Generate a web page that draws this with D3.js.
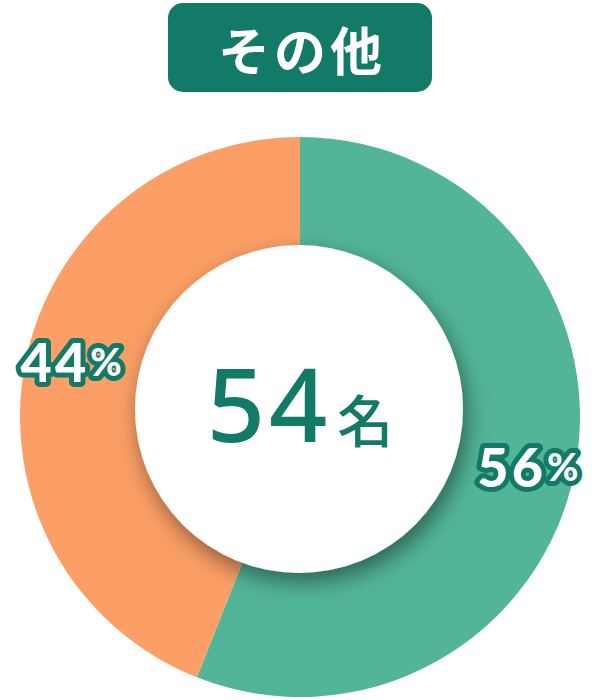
<!DOCTYPE html>
<html>
<head>
<meta charset="utf-8">
<script src="https://cdn.jsdelivr.net/npm/d3@7"></script>
<style>
  body { margin: 0; background: #fff; }
  svg { display: block; }
</style>
</head>
<body>
<svg></svg>
<script>
const width = 600;
const height = 700;

const title = "その他";
const categories = ["その他以外", "該当"];
const values = [44, 56];
const colors = ["#FB9F66", "#52B598"];
const total = 54;
const unit = "名";

const dark = "#137A68";
const cx = 300, cy = 417;
const outerR = 280;
const innerR = 164;

const svg = d3.select("svg").attr("width", width).attr("height", height);

const defs = svg.append("defs");
const shadow = defs.append("filter")
  .attr("id", "shadow")
  .attr("x", "-30%").attr("y", "-30%")
  .attr("width", "160%").attr("height", "160%");
shadow.append("feDropShadow")
  .attr("dx", 4).attr("dy", 9)
  .attr("stdDeviation", 11)
  .attr("flood-color", "#000")
  .attr("flood-opacity", 0.45);

// title badge
const badge = svg.append("g");
badge.append("rect")
  .attr("x", 168).attr("y", 3)
  .attr("width", 264).attr("height", 89)
  .attr("rx", 15)
  .attr("fill", dark);
badge.append("text")
  .attr("x", 302).attr("y", 48)
  .attr("text-anchor", "middle")
  .attr("dominant-baseline", "central")
  .attr("font-family", "'Noto Sans CJK JP', sans-serif")
  .attr("font-weight", 700)
  .attr("font-size", 52)
  .attr("letter-spacing", 4)
  .attr("fill", "#fff")
  .text(title);

// pie: larger value goes clockwise from top, smaller one after it
const pie = d3.pie().sort(null).value(d => d.v);
const pieData = pie([{ v: values[1], c: colors[1] }, { v: values[0], c: colors[0] }]);

const arc = d3.arc().innerRadius(0).outerRadius(outerR);
const labelArc = d3.arc().innerRadius(232).outerRadius(232);

const chart = svg.append("g").attr("transform", `translate(${cx},${cy})`);

chart.selectAll("path.slice")
  .data(pieData)
  .join("path")
  .attr("class", "slice")
  .attr("d", arc)
  .attr("fill", d => d.data.c);

// inner white disc with shadow
chart.append("circle")
  .attr("cx", -1).attr("cy", -8)
  .attr("r", innerR)
  .attr("fill", "#fff")
  .attr("filter", "url(#shadow)");

// center total
const center = chart.append("text")
  .attr("x", 0).attr("y", 25)
  .attr("text-anchor", "middle")
  .attr("fill", dark);
center.append("tspan")
  .attr("font-family", "'Noto Sans', sans-serif")
  .attr("font-weight", 500)
  .attr("font-size", 102)
  .attr("letter-spacing", 4)
  .text(total);
center.append("tspan")
  .attr("dx", 6)
  .attr("font-family", "'Noto Sans CJK JP', sans-serif")
  .attr("font-weight", 500)
  .attr("font-size", 56)
  .text(unit);

// percent labels
const labelShift = [[0, 6], [-1, -13]];
const labels = chart.selectAll("text.pct")
  .data(pieData)
  .join("text")
  .attr("class", "pct")
  .attr("transform", (d, i) => {
    const [x, y] = labelArc.centroid(d);
    return `translate(${x + labelShift[i][0]},${y + labelShift[i][1]})`;
  })
  .attr("text-anchor", "middle")
  .attr("dominant-baseline", "central")
  .attr("font-family", "Lato, sans-serif")
  .attr("font-weight", 900)
  .attr("fill", "#fff")
  .attr("stroke", dark)
  .attr("stroke-width", 10)
  .attr("stroke-linejoin", "round")
  .attr("paint-order", "stroke");
labels.append("tspan")
  .attr("font-size", 54)
  .attr("letter-spacing", 3)
  .text(d => d.data.v);
labels.append("tspan")
  .attr("font-size", 38)
  .attr("dx", 1)
  .text("%");
</script>
</body>
</html>
